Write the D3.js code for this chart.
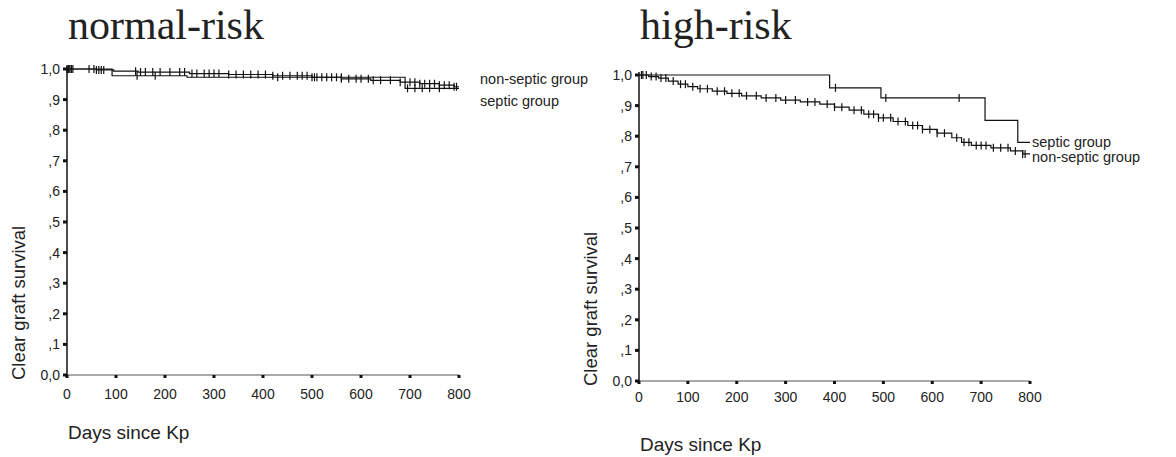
<!DOCTYPE html>
<html>
<head>
<meta charset="utf-8">
<script src="https://cdnjs.cloudflare.com/ajax/libs/d3/7.8.5/d3.min.js"></script>
<style>
  body { margin: 0; background: #fff; }
  text { font-family: Arial, "Liberation Sans", sans-serif; fill: #222; }
  .title { font-family: "Liberation Serif", "Times New Roman", serif; font-size: 42px; }
</style>
</head>
<body>
<svg id="chart" width="1176" height="457"></svg>
<script>
// y tick labels (german decimal style)
var yTicks = [0, 0.1, 0.2, 0.3, 0.4, 0.5, 0.6, 0.7, 0.8, 0.9, 1.0];
var yTickLabels = ["0,0", ",1", ",2", ",3", ",4", ",5", ",6", ",7", ",8", ",9", "1,0"];
var xTicks = [0, 100, 200, 300, 400, 500, 600, 700, 800];

// normal-risk: [day, survival] steps
var normalNonSeptic = [[0, 1.0], [60, 0.997], [95, 0.993], [145, 0.99], [250, 0.985], [330, 0.982],
    [420, 0.978], [500, 0.973], [560, 0.968], [620, 0.963], [680, 0.957], [720, 0.952],
    [760, 0.947], [790, 0.942], [800, 0.942]];
var normalNonSepticCensor = [0, 3, 6, 9, 12, 45, 55, 60, 65, 70, 75, 140, 150, 160, 175, 190, 210, 230,
    240, 255, 265, 280, 290, 300, 310, 330, 345, 360, 375, 390, 405, 420, 440, 455, 470, 480, 490,
    500, 505, 510, 520, 530, 540, 550, 560, 575, 590, 600, 615, 625, 640, 660, 680, 700, 710, 720,
    730, 740, 750, 760, 770, 780, 790, 795];
var normalSeptic = [[0, 1.0], [92, 0.978], [245, 0.973], [690, 0.937], [800, 0.937]];
var normalSepticCensor = [4, 143, 180, 430, 560, 695, 710, 725, 740, 760];

// high-risk
var highSeptic = [[0, 1.0], [390, 0.958], [495, 0.925], [708, 0.852], [775, 0.78], [800, 0.78]];
var highSepticCensor = [8, 402, 505, 655];
var highNonSeptic = [[0, 1.0], [20, 0.995], [40, 0.99], [60, 0.98], [80, 0.97], [100, 0.962],
    [120, 0.955], [150, 0.947], [180, 0.94], [210, 0.932], [250, 0.925], [290, 0.918], [330, 0.912],
    [370, 0.905], [400, 0.895], [430, 0.885], [460, 0.872], [490, 0.86], [520, 0.848], [550, 0.835],
    [580, 0.822], [610, 0.81], [640, 0.795], [660, 0.78], [680, 0.77], [720, 0.762], [760, 0.752],
    [785, 0.742], [800, 0.742]];
var highNonSepticCensor = [5, 15, 25, 35, 45, 55, 70, 85, 95, 110, 125, 140, 160, 175, 190, 205, 220,
    240, 260, 280, 300, 320, 345, 360, 385, 400, 415, 440, 455, 470, 480, 490, 500, 515, 530, 545,
    560, 570, 580, 595, 610, 625, 650, 665, 675, 690, 700, 710, 725, 740, 755, 770, 785, 790];

var panels = [
    { title: "normal-risk", titleX: 68, x0: 67, x1: 459, y0: 375, y1: 69, labelX: 18, tickDy: 24, daysY: 439,
      series: [
        { data: normalNonSeptic, censor: normalNonSepticCensor, label: "non-septic group", lx: 480, ly: 84 },
        { data: normalSeptic, censor: normalSepticCensor, label: "septic group", lx: 480, ly: 106 }
      ] },
    { title: "high-risk", titleX: 640, x0: 639, x1: 1030, y0: 381, y1: 75, labelX: 590, tickDy: 21, daysY: 451,
      series: [
        { data: highSeptic, censor: highSepticCensor, label: "septic group", lx: 1032, ly: 147 },
        { data: highNonSeptic, censor: highNonSepticCensor, label: "non-septic group", lx: 1032, ly: 162 }
      ] }
];

var svg = d3.select("#chart");

// value of a step curve at day t
function stepValue(data, t) {
    var v = data[0][1];
    for (var i = 0; i < data.length; i++) {
        if (data[i][0] <= t) v = data[i][1];
    }
    return v;
}

panels.forEach(function (p) {
    var x = d3.scaleLinear().domain([0, 800]).range([p.x0, p.x1]);
    var y = d3.scaleLinear().domain([0, 1]).range([p.y0, p.y1]);
    var g = svg.append("g");

    g.append("text").attr("class", "title")
        .attr("x", p.titleX).attr("y", 39).text(p.title);

    // x axis
    g.append("line")
        .attr("x1", x(0)).attr("x2", x(800))
        .attr("y1", y(0)).attr("y2", y(0))
        .attr("stroke", "#555").attr("stroke-width", 1);
    g.selectAll(".xt").data(xTicks).enter().append("rect")
        .attr("x", function (d) { return x(d) - 1.5; })
        .attr("y", y(0))
        .attr("width", 3).attr("height", 3)
        .attr("fill", "#111");
    g.selectAll(".xl").data(xTicks).enter().append("text")
        .attr("x", function (d) { return x(d); })
        .attr("y", y(0) + p.tickDy)
        .attr("text-anchor", "middle")
        .attr("font-size", "14px")
        .text(function (d) { return d; });

    // y axis
    g.append("line")
        .attr("x1", x(0)).attr("x2", x(0))
        .attr("y1", y(0) + 1).attr("y2", y(1) - 3)
        .attr("stroke", "#111").attr("stroke-width", 1.5);
    g.selectAll(".yt").data(yTicks).enter().append("rect")
        .attr("x", x(0) - 4)
        .attr("y", function (d) { return y(d) - 1.5; })
        .attr("width", 4).attr("height", 3)
        .attr("fill", "#111");
    g.selectAll(".yl").data(yTicks).enter().append("text")
        .attr("x", x(0) - 7)
        .attr("y", function (d) { return y(d) + 5; })
        .attr("text-anchor", "end")
        .attr("font-size", "14px")
        .text(function (d, i) { return yTickLabels[i]; });

    g.append("text")
        .attr("transform", "translate(" + (p.labelX + 7) + "," + (y(0) + 5) + ") rotate(-90)")
        .attr("font-size", "18.5px")
        .text("Clear graft survival");

    g.append("text")
        .attr("x", p.x0 + 1).attr("y", p.daysY)
        .attr("font-size", "19px")
        .text("Days since Kp");

    var line = d3.line()
        .x(function (d) { return x(d[0]); })
        .y(function (d) { return y(d[1]); })
        .curve(d3.curveStepAfter);

    p.series.forEach(function (s) {
        g.append("path")
            .attr("d", line(s.data))
            .attr("fill", "none")
            .attr("stroke", "#111")
            .attr("stroke-width", 1.2);
        g.selectAll(null).data(s.censor).enter().append("line")
            .attr("x1", function (d) { return x(d); })
            .attr("x2", function (d) { return x(d); })
            .attr("y1", function (d) { return y(stepValue(s.data, d)) - 4; })
            .attr("y2", function (d) { return y(stepValue(s.data, d)) + 4; })
            .attr("stroke", "#111")
            .attr("stroke-width", 1.2);
        g.append("text")
            .attr("x", s.lx).attr("y", s.ly)
            .attr("font-size", "14.5px")
            .text(s.label);
    });
});
</script>
</body>
</html>
